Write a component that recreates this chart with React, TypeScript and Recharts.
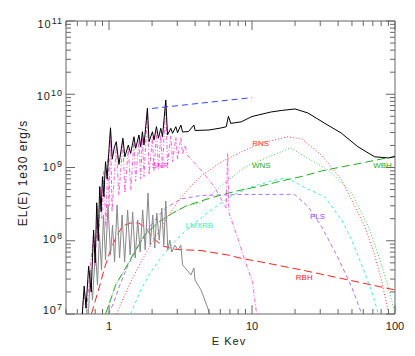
import React from 'react';
import { LineChart, Line, XAxis, YAxis, ReferenceArea, ReferenceDot } from 'recharts';

type Pt = { e: number; v: number };
const pts = (rows: number[][]): Pt[] => rows.map(([e, v]) => ({ e, v }));

// energies in keV, luminosities in 1e30 erg/s
const totalSpec = pts([
  [0.65, 1.0e7], [0.67, 2.4e7], [0.69, 1.2e7], [0.72, 4.5e7], [0.75, 2.0e7], [0.78, 1.4e8],
  [0.8, 5.0e7], [0.82, 3.3e8], [0.84, 1.0e8], [0.86, 5.5e8], [0.88, 2.5e8], [0.9, 7.5e8],
  [0.92, 4.0e8], [0.945, 1.2e9], [0.97, 7.0e8], [1.0, 1.8e9], [1.024, 3.49e9], [1.053, 1.3e9],
  [1.09, 1.9e9], [1.124, 2.25e9], [1.172, 1.1e9], [1.25, 2.51e9], [1.291, 1.4e9], [1.364, 2.03e9],
  [1.416, 1.56e9], [1.494, 2.63e9], [1.535, 1.83e9], [1.619, 2.78e9], [1.665, 1.92e9],
  [1.711, 3.08e9], [1.756, 2.03e9], [1.855, 6.43e9], [1.905, 2.25e9], [2.012, 3.08e9],
  [2.064, 2.37e9], [2.146, 3.61e9], [2.217, 2.51e9], [2.301, 3.43e9], [2.365, 2.63e9],
  [2.494, 8.34e9], [2.564, 2.78e9], [2.705, 3.43e9], [2.781, 2.93e9], [2.933, 3.61e9],
  [3.015, 2.98e9], [3.179, 3.8e9], [3.268, 3.05e9], [3.6, 3.1e9], [3.92, 3.8e9], [4.0, 3.2e9],
  [5.0, 3.25e9], [6.0, 3.45e9], [6.6, 3.6e9], [6.84, 5.0e9], [7.1, 4.0e9], [8.4, 4.2e9],
  [10, 4.97e9], [13.6, 5.73e9], [16, 6.0e9], [20, 6.3e9], [24.6, 5.55e9], [32, 4.05e9],
  [42, 2.96e9], [55, 1.92e9], [72, 1.4e9], [90, 1.35e9], [100, 1.41e9],
]);

const softSpec = pts([
  [0.718, 1.0e7], [0.741, 3.99e7], [0.766, 1.55e7], [0.804, 7.48e7], [0.83, 2.49e7],
  [0.857, 1.2e8], [0.886, 3.99e7], [0.915, 2.25e8], [0.945, 5.46e7], [0.984, 3.08e8],
  [1.024, 6.39e7], [1.058, 1.64e8], [1.093, 5.13e7], [1.138, 3.08e8], [1.185, 5.82e7],
  [1.234, 2.25e8], [1.285, 5.13e7], [1.349, 2.63e8], [1.405, 6.39e7], [1.463, 2.47e8],
  [1.524, 5.82e7], [1.586, 1.92e8], [1.652, 7.02e7], [1.719, 2.63e8], [1.791, 7.48e7],
  [1.874, 4.49e8], [1.942, 8.7e7], [2.022, 2.25e8], [2.088, 7.96e7], [2.157, 2.39e8],
  [2.245, 1.02e8], [2.338, 2.8e8], [2.415, 8.7e7], [2.494, 3.49e8], [2.576, 7.48e7],
  [2.661, 1.02e8], [2.749, 7.02e7], [2.886, 8.7e7], [3.03, 7.48e7], [3.179, 8.7e7],
  [3.268, 4.67e7], [3.505, 3.99e7], [3.739, 3.41e7], [3.925, 4.25e7], [3.99, 2.91e7],
  [4.397, 2.13e7], [4.9, 1.21e7], [5.044, 1.0e7],
]);

const snrSpec = pts([
  [0.65, 1.0e7], [0.67, 2.0e7], [0.7, 1.2e7], [0.74, 4.5e7], [0.78, 1.2e8], [0.8, 4.5e7],
  [0.83, 3.0e8], [0.85, 1.0e8], [0.87, 5.5e8], [0.89, 2.0e8], [0.92, 9.0e8], [0.95, 1.5e8],
  [0.98, 1.4e9], [1.0, 3.0e8], [1.024, 3.2e9], [1.05, 2.5e8], [1.124, 2.0e9], [1.17, 4.2e8],
  [1.25, 2.2e9], [1.29, 4.5e8], [1.364, 1.8e9], [1.42, 5.0e8], [1.494, 2.3e9], [1.535, 6.5e8],
  [1.619, 2.4e9], [1.665, 7.0e8], [1.711, 2.6e9], [1.756, 7.5e8], [1.855, 5.8e9], [1.905, 8.0e8],
  [2.012, 2.6e9], [2.064, 9.0e8], [2.146, 3.0e9], [2.217, 9.5e8], [2.301, 2.8e9], [2.365, 1.0e9],
  [2.494, 7.5e9], [2.564, 1.1e9], [2.705, 2.7e9], [2.781, 1.2e9], [2.933, 2.6e9], [3.015, 1.3e9],
  [3.179, 2.6e9], [3.268, 1.5e9], [3.4, 2.0e9], [3.55, 1.45e9], [4.4, 9.25e8], [5.4, 5.6e8],
  [6.0, 3.9e8], [6.6, 2.8e8], [6.75, 1.56e9], [6.9, 2.4e8], [8.0, 1.05e8], [8.8, 5.8e7],
  [10.1, 2.7e7], [10.7, 1.1e7], [10.9, 1.0e7],
]);

const rnsSpec = pts([
  [1.13, 1.0e7], [1.24, 1.55e7], [1.42, 2.74e7], [1.67, 5.13e7], [1.96, 8.75e7], [2.3, 1.49e8],
  [2.7, 2.47e8], [3.18, 3.83e8], [3.74, 5.59e8], [4.4, 7.65e8], [6.08, 1.19e9], [8.4, 1.63e9],
  [11.6, 2.16e9], [17.9, 2.63e9], [22.3, 2.45e9], [30.6, 1.48e9], [42.4, 6.75e8], [49.8, 3.6e8],
  [61.4, 1.56e8], [71.1, 7.02e7], [80.9, 2.74e7], [90.2, 1.03e7],
]);

const wnsSpec = pts([
  [0.945, 1.0e7], [1.024, 1.55e7], [1.111, 2.49e7], [1.306, 4.25e7], [1.535, 7.48e7],
  [1.805, 1.24e8], [2.228, 1.8e8], [2.795, 2.39e8], [3.449, 2.98e8], [4.396, 3.28e8],
  [6.075, 5.59e8], [8.398, 9.25e8], [9.87, 1.12e9], [13.64, 1.44e9], [18.65, 1.85e9],
  [23.77, 1.39e9], [34.16, 9.25e8], [42.37, 6.14e8], [49.79, 4.49e8], [65.25, 1.56e8],
  [74.6, 7.48e7], [87.7, 2.74e7], [100, 1.03e7],
]);

const wbhSpec = pts([
  [0.945, 1.0e7], [1.024, 1.55e7], [1.111, 2.49e7], [1.306, 4.25e7], [1.535, 7.48e7],
  [1.805, 1.24e8], [2.228, 1.8e8], [2.795, 2.39e8], [3.449, 2.98e8], [4.396, 3.49e8],
  [6.075, 4.22e8], [8.398, 4.93e8], [11.6, 5.59e8], [16.04, 6.55e8], [22.26, 7.54e8],
  [30.64, 8.96e8], [42.37, 1.02e9], [58.54, 1.15e9], [80.89, 1.31e9], [100, 1.41e9],
]);

const lmxrbSpec = pts([
  [1.416, 1.0e7], [1.665, 2.13e7], [1.957, 3.74e7], [2.301, 5.82e7], [2.705, 8.47e7],
  [3.181, 1.2e8], [4.054, 1.8e8], [5.168, 2.63e8], [7.142, 4.08e8], [9.87, 5.42e8],
  [13.64, 6.55e8], [16.84, 7.12e8], [18.65, 6.75e8], [23.77, 5.25e8], [32.17, 3.99e8],
  [42.37, 1.92e8], [49.79, 1.02e8], [58.54, 4.67e7], [68.81, 2.0e7], [76.7, 1.0e7],
]);

const plsSpec = pts([
  [0.992, 1.0e7], [1.075, 1.41e7], [1.205, 2.65e7], [1.371, 4.82e7], [1.586, 8.22e7],
  [1.805, 1.28e8], [2.122, 1.98e8], [2.494, 2.8e8], [3.181, 3.72e8], [4.396, 4.15e8],
  [8.398, 4.28e8], [19.8, 4.3e8], [24.71, 2.92e8], [30.64, 1.56e8], [39.06, 6.39e7],
  [49.79, 2.34e7], [58.54, 1.0e7],
]);

const rbhSpec = pts([
  [0.753, 1.0e7], [0.804, 1.55e7], [0.871, 2.65e7], [0.93, 4.25e7], [1.024, 7.48e7],
  [1.129, 1.16e8], [1.244, 1.59e8], [1.416, 1.75e8], [1.612, 1.75e8], [1.805, 1.49e8],
  [2.022, 1.09e8], [2.377, 8.47e7], [2.933, 7.6e7], [4.396, 7.36e7], [6.77, 6.39e7],
  [8.398, 5.75e7], [11.6, 5.13e7], [22.26, 3.99e7], [42.37, 3.05e7], [68.82, 2.49e7],
  [100, 2.13e7],
]);

const blueSpec = pts([[2.0, 6.4e9], [10, 9.0e9]]);

const seriesLabels = [
  { name: 'SNR', e: 2.28, v: 1.08e9, color: '#ff30d0' },
  { name: 'RNS', e: 11.5, v: 2.18e9, color: '#ff3030' },
  { name: 'WNS', e: 11.6, v: 1.08e9, color: '#22aa22' },
  { name: 'WBH', e: 81.8, v: 1.08e9, color: '#22aa22' },
  { name: 'PLS', e: 28.7, v: 2.18e8, color: '#a040ff' },
  { name: 'LMXRB', e: 4.28, v: 1.64e8, color: '#30f0c0' },
  { name: 'RBH', e: 23.2, v: 3.23e7, color: '#ff2020' },
];

const xTicks = [0.5, 0.6, 0.7, 0.8, 0.9, 1, 2, 3, 4, 5, 6, 7, 8, 9, 10, 20, 30, 40, 50, 60, 70, 80, 90, 100];
const xMajor = [1, 10, 100];
const yExps = [7, 8, 9, 10, 11];
const yTicks = yExps.flatMap((p) =>
  p === 11 ? [1e11] : [1, 2, 3, 4, 5, 6, 7, 8, 9].map((m) => m * Math.pow(10, p))
);

const AXIS = '#666';
const TEXT = '#222';
const PLOT_W = 329;
const PLOT_H = 293;
const FONT = '"Liberation Sans", Arial, sans-serif';

const XTick = (props: any) => {
  const { x, y, payload } = props;
  const major = xMajor.includes(payload.value);
  const len = major ? 9 : 5;
  return (
    <g>
      <line x1={x} y1={y} x2={x} y2={y - len} stroke={AXIS} />
      <line x1={x} y1={y - PLOT_H} x2={x} y2={y - PLOT_H + len} stroke={AXIS} />
      {major && (
        <text x={x} y={y + 16} textAnchor="middle" fontSize={11} fill={TEXT} fontFamily={FONT}>
          {payload.value}
        </text>
      )}
    </g>
  );
};

const YTick = (props: any) => {
  const { x, y, payload } = props;
  const exp = Math.log10(payload.value);
  const major = Math.abs(exp - Math.round(exp)) < 1e-6;
  const len = major ? 9 : 5;
  const p = Math.round(exp);
  const dy = 7 - (11 - p) * 1.75;
  return (
    <g>
      <line x1={x} y1={y} x2={x + len} y2={y} stroke={AXIS} />
      <line x1={x + PLOT_W} y1={y} x2={x + PLOT_W - len} y2={y} stroke={AXIS} />
      {major && (
        <text x={x - 3} y={y + dy} textAnchor="end" fontSize={11} fill={TEXT} fontFamily={FONT} letterSpacing={1}>
          10
          <tspan dy={-4} fontSize={9}>{p}</tspan>
        </text>
      )}
    </g>
  );
};

const curves = [
  { key: 'rbh', data: rbhSpec, color: '#ff2020', dash: '8 4' },
  { key: 'pls', data: plsSpec, color: '#b070ff', dash: '4 3' },
  { key: 'lmxrb', data: lmxrbSpec, color: '#40f0c8', dash: '3 3' },
  { key: 'wbh', data: wbhSpec, color: '#22aa22', dash: '8 4' },
  { key: 'wns', data: wnsSpec, color: '#44cc44', dash: '1 2' },
  { key: 'rns', data: rnsSpec, color: '#ff4040', dash: '1 2' },
  { key: 'soft', data: softSpec, color: '#888', dash: undefined },
  { key: 'snr', data: snrSpec, color: '#ff60dc', dash: '4 2 1 2' },
  { key: 'total', data: totalSpec, color: '#000', dash: undefined },
  { key: 'blue', data: blueSpec, color: '#3344ff', dash: '6 4' },
];

export default function App() {
  return (
    <div style={{ position: 'absolute', left: 0, top: 0, width: 415, height: 356, background: '#fff', fontFamily: FONT }}>
      <LineChart width={415} height={356} margin={{ top: 21, right: 20, bottom: 12, left: 16 }}>
        <XAxis
          dataKey="e"
          type="number"
          scale="log"
          domain={[0.5, 100]}
          allowDataOverflow
          ticks={xTicks}
          interval={0}
          tick={<XTick />}
          tickLine={false}
          axisLine={false}
          tickSize={0}
          tickMargin={0}
          height={30}
        />
        <YAxis
          type="number"
          scale="log"
          domain={[1e7, 1e11]}
          allowDataOverflow
          ticks={yTicks}
          interval={0}
          tick={<YTick />}
          tickLine={false}
          axisLine={false}
          tickSize={0}
          tickMargin={0}
          width={50}
        />
        <ReferenceArea x1={0.5} x2={100} y1={1e7} y2={1e11} fill="none" stroke={AXIS} strokeWidth={1} />
        {curves.map((c) => (
          <Line
            key={c.key}
            data={c.data}
            dataKey="v"
            type="linear"
            stroke={c.color}
            strokeWidth={1}
            strokeDasharray={c.dash}
            dot={false}
            activeDot={false}
            isAnimationActive={false}
          />
        ))}
        {seriesLabels.map((l) => (
          <ReferenceDot
            key={l.name}
            x={l.e}
            y={l.v}
            r={0}
            fill="none"
            stroke="none"
            label={{ value: l.name, position: 'center', fill: l.color, fontSize: 8, fontFamily: FONT }}
          />
        ))}
      </LineChart>
      <svg width={415} height={356} style={{ position: 'absolute', left: 0, top: 0, pointerEvents: 'none' }}>
        <text x={229} y={345} textAnchor="middle" fontSize={11} fill={TEXT} fontFamily={FONT} letterSpacing={1}>
          E Kev
        </text>
        <text
          transform="rotate(-90)"
          x={-173}
          y={27}
          textAnchor="middle"
          fontSize={12}
          fill={TEXT}
          fontFamily={FONT}
          letterSpacing={1}
        >
          EL(E) 1e30 erg/s
        </text>
      </svg>
    </div>
  );
}
